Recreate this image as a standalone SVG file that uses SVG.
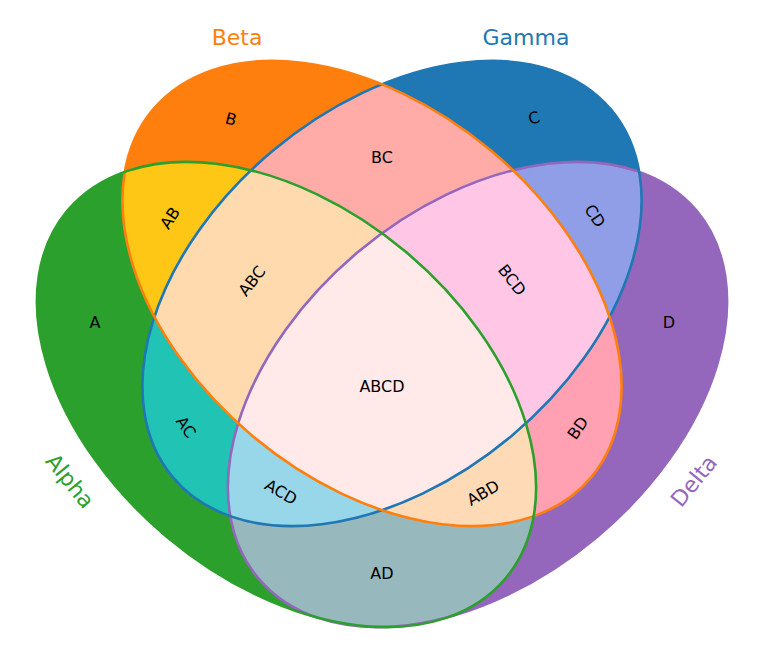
<svg xmlns="http://www.w3.org/2000/svg" xmlns:xlink="http://www.w3.org/1999/xlink" width="764" height="666" viewBox="0 0 764 666">
<style>
.lbl{font-family:"DejaVu Sans","Liberation Sans",sans-serif;font-size:16px;fill:#000;text-anchor:middle;dominant-baseline:central}
.set{font-family:"DejaVu Sans","Liberation Sans",sans-serif;font-size:22px;text-anchor:middle;dominant-baseline:central}
.ol{fill:none;stroke-width:2.6}
</style>
<defs>
<ellipse id="eA" cx="286.5" cy="394.5" rx="286" ry="186" transform="rotate(40 286.5 394.5)"/>
<ellipse id="eB" cx="372" cy="293.5" rx="286" ry="186" transform="rotate(40 372 293.5)"/>
<ellipse id="eC" cx="392" cy="293.5" rx="286" ry="186" transform="rotate(-40 392 293.5)"/>
<ellipse id="eD" cx="477.5" cy="394.5" rx="286" ry="186" transform="rotate(-40 477.5 394.5)"/>
<clipPath id="cA"><use href="#eA"/></clipPath>
<clipPath id="cB"><use href="#eB"/></clipPath>
<clipPath id="cC"><use href="#eC"/></clipPath>
<clipPath id="cD"><use href="#eD"/></clipPath>
<mask id="xA" maskUnits="userSpaceOnUse" x="0" y="0" width="764" height="666"><rect width="764" height="666" fill="#fff"/><use href="#eA" fill="#000"/></mask>
<mask id="xB" maskUnits="userSpaceOnUse" x="0" y="0" width="764" height="666"><rect width="764" height="666" fill="#fff"/><use href="#eB" fill="#000"/></mask>
<mask id="xC" maskUnits="userSpaceOnUse" x="0" y="0" width="764" height="666"><rect width="764" height="666" fill="#fff"/><use href="#eC" fill="#000"/></mask>
<mask id="xD" maskUnits="userSpaceOnUse" x="0" y="0" width="764" height="666"><rect width="764" height="666" fill="#fff"/><use href="#eD" fill="#000"/></mask>
</defs>
<rect width="764" height="666" fill="#fff"/>

<g id="region-A"><g mask="url(#xB)"><g mask="url(#xC)"><g mask="url(#xD)"><use href="#eA" fill="#2ca02c"/></g></g></g><text class="lbl" x="95" y="322">A</text></g>
<g id="region-B"><g mask="url(#xA)"><g mask="url(#xC)"><g mask="url(#xD)"><use href="#eB" fill="#ff7f0e"/></g></g></g><text class="lbl" transform="translate(231 119) rotate(15)">B</text></g>
<g id="region-C"><g mask="url(#xA)"><g mask="url(#xB)"><g mask="url(#xD)"><use href="#eC" fill="#1f77b4"/></g></g></g><text class="lbl" transform="translate(534 118) rotate(-15)">C</text></g>
<g id="region-D"><g mask="url(#xA)"><g mask="url(#xB)"><g mask="url(#xC)"><use href="#eD" fill="#9467bd"/></g></g></g><text class="lbl" x="669" y="322">D</text></g>

<g id="region-AB"><g mask="url(#xC)"><g mask="url(#xD)"><g clip-path="url(#cB)"><use href="#eA" fill="#fec615"/></g></g></g><text class="lbl" transform="translate(170 218) rotate(-56)">AB</text></g>
<g id="region-AC"><g mask="url(#xB)"><g mask="url(#xD)"><g clip-path="url(#cC)"><use href="#eA" fill="#21c3b4"/></g></g></g><text class="lbl" transform="translate(186 427) rotate(55)">AC</text></g>
<g id="region-AD"><g mask="url(#xB)"><g mask="url(#xC)"><g clip-path="url(#cD)"><use href="#eA" fill="#97b9bd"/></g></g></g><text class="lbl" x="382" y="573">AD</text></g>
<g id="region-BC"><g mask="url(#xA)"><g mask="url(#xD)"><g clip-path="url(#cC)"><use href="#eB" fill="#ffaba7"/></g></g></g><text class="lbl" x="382" y="157">BC</text></g>
<g id="region-BD"><g mask="url(#xA)"><g mask="url(#xC)"><g clip-path="url(#cD)"><use href="#eB" fill="#ffa1b2"/></g></g></g><text class="lbl" transform="translate(578 428) rotate(-55)">BD</text></g>
<g id="region-CD"><g mask="url(#xA)"><g mask="url(#xB)"><g clip-path="url(#cD)"><use href="#eC" fill="#8f9ee6"/></g></g></g><text class="lbl" transform="translate(595 216) rotate(56)">CD</text></g>

<g id="region-ABC"><g mask="url(#xD)"><g clip-path="url(#cB)"><g clip-path="url(#cC)"><use href="#eA" fill="#ffdaae"/></g></g></g><text class="lbl" transform="translate(252 281) rotate(-52)">ABC</text></g>
<g id="region-ABD"><g mask="url(#xC)"><g clip-path="url(#cB)"><g clip-path="url(#cD)"><use href="#eA" fill="#fedab6"/></g></g></g><text class="lbl" transform="translate(483 493) rotate(-30)">ABD</text></g>
<g id="region-ACD"><g mask="url(#xB)"><g clip-path="url(#cC)"><g clip-path="url(#cD)"><use href="#eA" fill="#98d6e9"/></g></g></g><text class="lbl" transform="translate(281 492) rotate(30)">ACD</text></g>
<g id="region-BCD"><g mask="url(#xA)"><g clip-path="url(#cC)"><g clip-path="url(#cD)"><use href="#eB" fill="#ffc7e5"/></g></g></g><text class="lbl" transform="translate(512 280) rotate(52)">BCD</text></g>
<g id="region-ABCD"><g clip-path="url(#cB)"><g clip-path="url(#cC)"><g clip-path="url(#cD)"><use href="#eA" fill="#ffe9e9"/></g></g></g><text class="lbl" x="382" y="386">ABCD</text></g>

<g id="outlines">
<use href="#eD" class="ol" stroke="#9467bd"/>
<use href="#eC" class="ol" stroke="#1f77b4"/>
<use href="#eB" class="ol" stroke="#ff7f0e"/>
<use href="#eA" class="ol" stroke="#2ca02c"/>
</g>

<g id="set-labels">
<text class="set" x="237" y="37" fill="#ff7f0e">Beta</text>
<text class="set" x="526" y="37" fill="#1f77b4">Gamma</text>
<text class="set" transform="translate(70 481) rotate(51)" fill="#2ca02c">Alpha</text>
<text class="set" transform="translate(694 481) rotate(-51)" fill="#9467bd">Delta</text>
</g>
</svg>
